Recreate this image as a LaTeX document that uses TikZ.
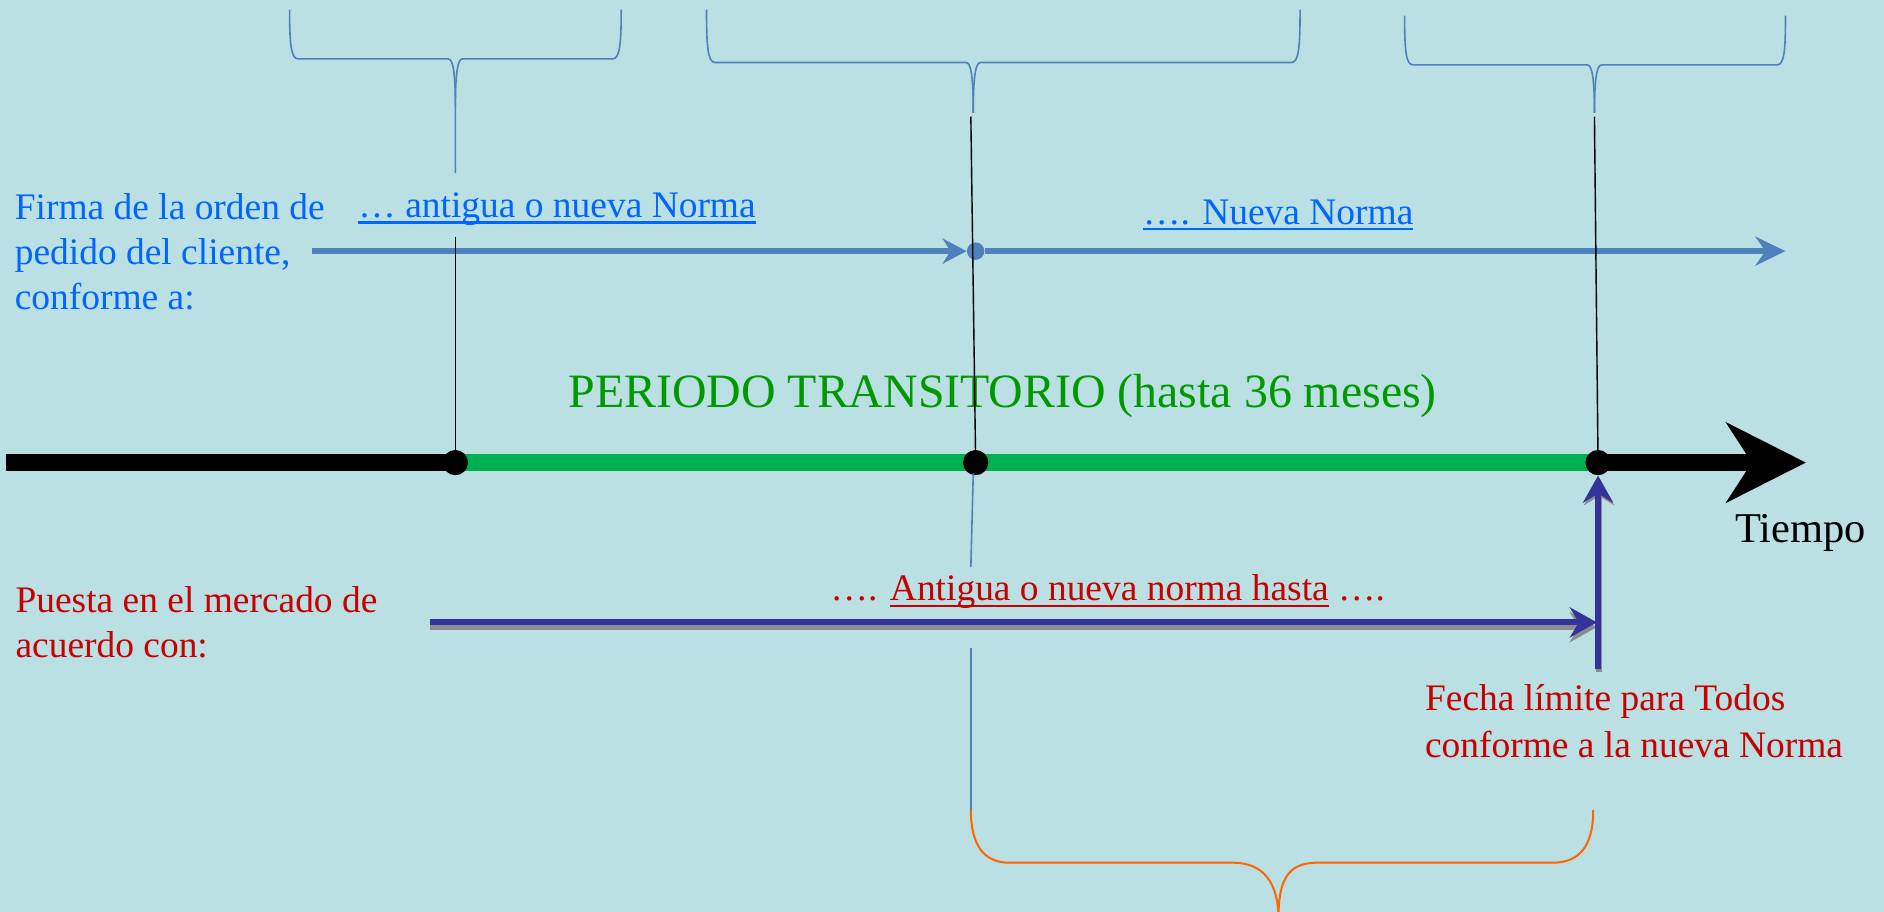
\documentclass[tikz,border=0pt]{standalone}
\usepackage{fontspec}
\setmainfont{Liberation Serif}
\usetikzlibrary{arrows.meta}
\newsavebox{\cajasub}
\newcommand{\subraya}[1]{\sbox{\cajasub}{#1}\rlap{\rule[-3.2pt]{\wd\cajasub}{1.3pt}}\usebox{\cajasub}}
\definecolor{fondo}{RGB}{186,224,227}
\definecolor{azulflecha}{RGB}{79,129,189}
\definecolor{azultexto}{RGB}{0,102,255}
\definecolor{rojotexto}{RGB}{200,0,0}
\definecolor{verdeeje}{RGB}{0,176,80}
\definecolor{verdetexto}{RGB}{0,153,0}
\definecolor{marino}{RGB}{51,51,153}
\definecolor{naranja}{RGB}{255,102,0}
\tikzset{
  llave/.style={azulflecha,line width=0.8pt},
  guia/.style={black,line width=0.7pt},
  eje/.style={line width=8.2pt},
  hito/.style={circle,fill=black,inner sep=0pt,minimum size=12.6pt},
  flechaazul/.style={azulflecha,line width=2.8pt},
  flechamarino/.style={marino,line width=2.9pt,-{Stealth[length=13.5pt,width=15pt,inset=4.5pt]}},
  sombra/.style={black!45,line width=2.9pt,-{Stealth[length=13.5pt,width=15pt,inset=4.5pt]}},
  textoazul/.style={azultexto,font=\fontsize{18.7}{22.5}\selectfont,inner sep=0pt},
  textorojo/.style={rojotexto,font=\fontsize{18.7}{22.4}\selectfont,inner sep=0pt},
}
\begin{document}
\begin{tikzpicture}[x=0.6pt,y=-0.6pt]
  \useasboundingbox (0,0) rectangle (1568,759);
  \fill[fondo] (0,0) rectangle (1568,759);

  \coordinate (inicio) at (5,385);
  \coordinate (t1) at (379,385);
  \coordinate (t2) at (812,385);
  \coordinate (t3) at (1330,385);
  \coordinate (tiempo) at (1503,385);
  \draw[eje,black] (inicio) -- (t1);
  \draw[eje,verdeeje] (t1) -- (t3);
  \draw[eje,black,-{Stealth[length=39.6pt,width=39.6pt,inset=12.6pt]}] (t3) -- (tiempo);

  \node[verdetexto,font=\fontsize{23.9}{28}\selectfont,inner sep=0pt,anchor=base] (periodo) at (834.5,339) {PERIODO TRANSITORIO (hasta 36 meses)};
  \node[font=\fontsize{21.2}{25}\selectfont,inner sep=0pt,anchor=base west] (tiempolbl) at (1443.7,451.5) {Tiempo};

  \coordinate (orden) at (260,209);
  \node[circle,fill=azulflecha,inner sep=0pt,minimum size=8.7pt] (cambio) at (812,209) {};
  \coordinate (nueva) at (1486,209);
  \draw[flechaazul,-{Stealth[length=12pt,width=12.6pt,inset=4pt]}] (orden) -- (cambio);
  \draw[flechaazul,-{Stealth[length=15pt,width=14.4pt,inset=5pt]}] (cambio) -- (nueva);

  \coordinate (g1) at (379,197);
  \coordinate (g2) at (808,97);
  \coordinate (g3) at (1327,97);
  \draw[guia] (g1) -- (t1);
  \draw[guia] (g2) -- (t2);
  \draw[guia] (g3) -- (t3);

  \node[hito] (h1) at (t1) {};
  \node[hito] (h2) at (t2) {};
  \node[hito] (h3) at (t3) {};

  \draw[llave] (241,8) .. controls (241,35) and (242,49) .. (248,49) -- (373,49) .. controls (377,49) and (379,60) .. (379,89) -- (379,144);
  \draw[llave] (379,89) .. controls (379,60) and (381,49) .. (385,49) -- (510,49) .. controls (516,49) and (517,35) .. (517,8);
  \draw[llave] (588,8) .. controls (588,38) and (589,52) .. (595,52) -- (804,52) .. controls (808,52) and (810,63) .. (810,94);
  \draw[llave] (810,94) .. controls (810,63) and (812,52) .. (816,52) -- (1075,52) .. controls (1081,52) and (1082,38) .. (1082,8);
  \draw[llave] (1169,13) .. controls (1169,42) and (1170,54) .. (1176,54) -- (1321,54) .. controls (1325,54) and (1327,65) .. (1327,94);
  \draw[llave] (1327,94) .. controls (1327,65) and (1329,54) .. (1333,54) -- (1479,54) .. controls (1485,54) and (1486,42) .. (1486,13);

  \node[textoazul,anchor=north west,align=left] (firma) at (12,160.5) {Firma de la orden de\\pedido del cliente,\\conforme a:};
  \node[textoazul,anchor=base west] (antigua) at (298,181) {\subraya{… antigua o nueva Norma}};
  \node[textoazul,anchor=base west] (nuevanorma) at (951,186.5) {\subraya{…. Nueva Norma}};

  \coordinate (mercado) at (358,518);
  \coordinate (limite) at (1329,518);
  \coordinate (pie) at (1330,557);
  \draw[sombra] ([yshift=-2.4pt]mercado) -- ([yshift=-2.4pt]limite);
  \draw[flechamarino] (mercado) -- (limite);
  \draw[sombra] ([xshift=0.5pt,yshift=-1.2pt]pie) -- ([xshift=0.5pt,yshift=-1.2pt]h3.south);
  \draw[flechamarino] (pie) -- (h3);

  \node[textorojo,anchor=north west,align=left] (puesta) at (12.6,487.7) {Puesta en el mercado de\\acuerdo con:};
  \node[textorojo,anchor=base west] (hasta) at (691,500) {…. \subraya{Antigua o nueva norma hasta} ….};
  \node[textorojo,font=\fontsize{18.7}{23.4}\selectfont,anchor=north west,align=left] (fecha) at (1185.7,569.7) {Fecha límite para Todos\\conforme a la nueva Norma};

  \draw[llave] (810,394) -- (808,472);
  \draw[llave] (808,539) -- (808,674);
  \draw[naranja,line width=1pt] (808,674) .. controls (808,705) and (820,718) .. (840,718) -- (1026,718) .. controls (1052,718) and (1064,735) .. (1064,765);
  \draw[naranja,line width=1pt] (1064,765) .. controls (1064,735) and (1070,718) .. (1096,718) -- (1292,718) .. controls (1314,718) and (1326,705) .. (1326,674);
\end{tikzpicture}
\end{document}
